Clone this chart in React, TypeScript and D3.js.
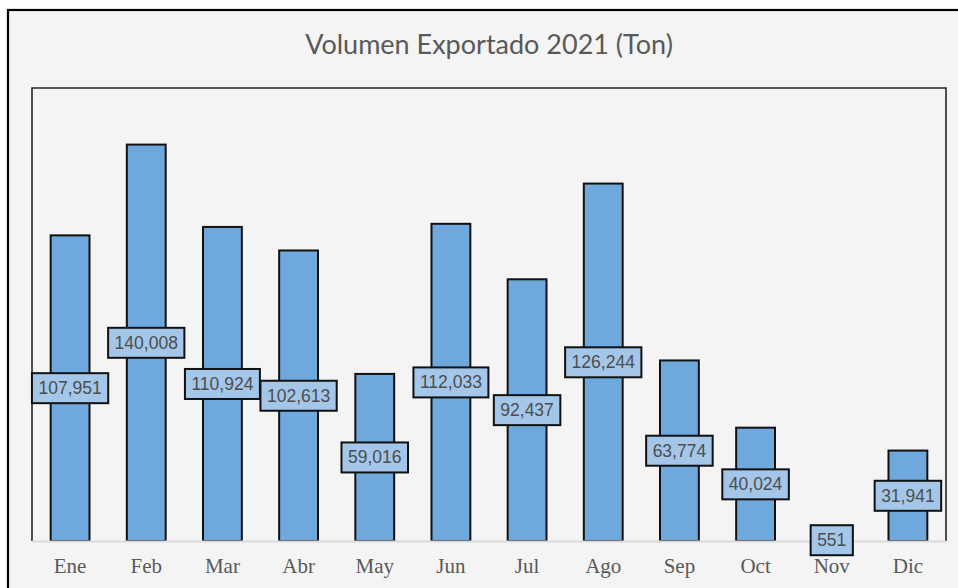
import React, { useEffect, useRef } from "react";
import * as d3 from "d3";

const months = ["Ene", "Feb", "Mar", "Abr", "May", "Jun", "Jul", "Ago", "Sep", "Oct", "Nov", "Dic"];
const volumes = [107951, 140008, 110924, 102613, 59016, 112033, 92437, 126244, 63774, 40024, 551, 31941];
const title = "Volumen Exportado 2021 (Ton)";
const yMax = 160000;

const W = 958;
const H = 588;
const plot = { left: 32, top: 88, right: 946, bottom: 541 };

export default function App() {
  const ref = useRef<SVGSVGElement | null>(null);

  useEffect(() => {
    const svg = d3.select(ref.current);
    svg.selectAll("*").remove();

    svg.append("rect").attr("width", W).attr("height", H).attr("fill", "#ffffff");
    svg
      .append("rect")
      .attr("x", 8)
      .attr("y", 10)
      .attr("width", W + 20)
      .attr("height", H + 20)
      .attr("fill", "#f4f4f4")
      .attr("stroke", "#000")
      .attr("stroke-width", 2.2);

    const tt = svg
      .append("text")
      .attr("x", (plot.left + plot.right) / 2)
      .attr("y", 54)
      .attr("text-anchor", "middle")
      .attr("font-family", "Lato, 'Noto Sans', sans-serif")
      .attr("font-size", 27)
      .attr("fill", "#595959")
      .text(title);
    const tw = (tt.node() as SVGTextElement).getComputedTextLength();
    if (tw > 0 && Math.abs(tw - 370) > 4) {
      tt.attr("font-size", 27 * (370 / tw));
    }

    const x = d3
      .scaleBand<string>()
      .domain(months)
      .range([plot.left, plot.right])
      .paddingInner(0.49)
      .paddingOuter(0.245);
    const y = d3.scaleLinear().domain([0, yMax]).range([plot.bottom, plot.top]);

    // plot frame (left, top, right)
    svg
      .append("path")
      .attr("d", `M${plot.left},${plot.bottom}V${plot.top}H${plot.right}V${plot.bottom}`)
      .attr("fill", "none")
      .attr("stroke", "#262626")
      .attr("stroke-width", 1.6);

    // bars
    svg
      .append("g")
      .selectAll("rect")
      .data(months)
      .join("rect")
      .attr("x", (d) => x(d)!)
      .attr("width", x.bandwidth())
      .attr("y", (_, i) => y(volumes[i]))
      .attr("height", (_, i) => plot.bottom - y(volumes[i]))
      .attr("fill", "#6fa8dc")
      .attr("stroke", "#111")
      .attr("stroke-width", 2);

    // axis line
    svg
      .append("line")
      .attr("x1", plot.left)
      .attr("x2", plot.right)
      .attr("y1", plot.bottom + 0.5)
      .attr("y2", plot.bottom + 0.5)
      .attr("stroke", "#d9d9d9")
      .attr("stroke-width", 2);

    // category labels
    svg
      .append("g")
      .selectAll("text")
      .data(months)
      .join("text")
      .attr("x", (d) => x(d)! + x.bandwidth() / 2)
      .attr("y", 573)
      .attr("text-anchor", "middle")
      .attr("font-family", "'Liberation Serif', 'Times New Roman', serif")
      .attr("font-size", 21)
      .attr("fill", "#595959")
      .text((d) => d);

    // data labels
    const fmt = d3.format(",");
    const lg = svg.append("g");
    months.forEach((m, i) => {
      const cx = x(m)! + x.bandwidth() / 2;
      const cy = (y(volumes[i]) + plot.bottom) / 2;
      const g = lg.append("g");
      const rect = g.append("rect");
      const t = g
        .append("text")
        .attr("x", cx)
        .attr("y", cy + 6)
        .attr("text-anchor", "middle")
        .attr("font-family", "'Liberation Sans', Arial, sans-serif")
        .attr("font-size", 17.5)
        .attr("fill", "#4d4d4d")
        .text(fmt(volumes[i]));
      const w = (t.node() as SVGTextElement).getComputedTextLength() + 13;
      const h = 30;
      rect
        .attr("x", cx - w / 2)
        .attr("y", cy - h / 2)
        .attr("width", w)
        .attr("height", h)
        .attr("fill", "#a3c6e9")
        .attr("stroke", "#111")
        .attr("stroke-width", 2);
    });
  }, []);

  return (
    <svg
      ref={ref}
      width={W}
      height={H}
      style={{ position: "absolute", left: 0, top: 0, display: "block" }}
    />
  );
}
